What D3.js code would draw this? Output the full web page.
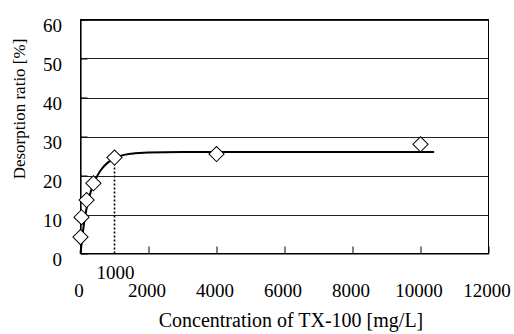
<!DOCTYPE html>
<html>
<head>
<meta charset="utf-8">
<script src="https://cdn.jsdelivr.net/npm/d3@7"></script>
<style>
  body { margin: 0; background: #fff; }
  svg text { font-family: "Liberation Serif", "Times New Roman", Times, serif; fill: #000; }
</style>
</head>
<body>
<div id="chart"></div>
<script>
// measured points
const concX = [0, 30, 180, 380, 1000, 4000, 10000];
const desorpY = [4.2, 9.3, 13.7, 18.0, 24.6, 25.5, 28.0];

// fitted curve
const fitX = [0, 100, 200, 300, 400, 500, 600, 800, 1000, 1200, 1500, 2000, 3000, 10400];
const fitY = [0, 7.5, 12.5, 15.8, 18.2, 20.0, 21.4, 23.3, 24.4, 25.1, 25.6, 25.9, 26.0, 26.0];

const xTicks = [0, 2000, 4000, 6000, 8000, 10000, 12000];
const yTicks = [0, 10, 20, 30, 40, 50, 60];
const markX = 1000; // dotted guide line

const serif = '"Liberation Serif", "Times New Roman", Times, serif';
const width = 514;
const height = 334;
const plotL = 80.5, plotR = 488.5, plotT = 19.5, plotB = 253.5;

const svg = d3.select('#chart')
  .append('svg')
  .attr('width', width)
  .attr('height', height)
  .attr('font-family', serif);

const x = d3.scaleLinear().domain([0, 12000]).range([plotL, plotR]);
const y = d3.scaleLinear().domain([0, 60]).range([plotB, plotT]);

// horizontal gridlines
svg.append('g')
  .selectAll('line')
  .data(yTicks.slice(1))
  .enter()
  .append('line')
  .attr('x1', plotL).attr('x2', plotR)
  .attr('y1', d => Math.round(y(d)) + 0.5)
  .attr('y2', d => Math.round(y(d)) + 0.5)
  .attr('stroke', '#222')
  .attr('stroke-width', 1);

// plot frame
svg.append('rect')
  .attr('x', plotL).attr('y', plotT)
  .attr('width', plotR - plotL).attr('height', plotB - plotT)
  .attr('fill', 'none')
  .attr('stroke', '#000')
  .attr('stroke-width', 1);

// x axis, ticks pointing inward
const xAxis = svg.append('g')
  .attr('transform', `translate(0, ${plotB})`)
  .call(d3.axisBottom(x).tickValues(xTicks).tickSizeInner(-7).tickSizeOuter(0).tickFormat(d3.format('d')))
  .attr('font-family', serif)
  .attr('font-size', 19);
xAxis.select('.domain').attr('stroke', '#000').attr('stroke-width', 1.2);
xAxis.selectAll('.tick line').attr('stroke', '#000');
xAxis.selectAll('.tick text')
  .attr('y', 43)
  .attr('dy', 0)
  .attr('dx', -2);

// y axis
const yAxis = svg.append('g')
  .attr('transform', `translate(${plotL}, 0)`)
  .call(d3.axisLeft(y).tickValues(yTicks).tickSizeInner(-7).tickSizeOuter(0))
  .attr('font-family', serif)
  .attr('font-size', 19);
yAxis.select('.domain').attr('stroke', '#000').attr('stroke-width', 1.2);
yAxis.selectAll('.tick line').attr('stroke', '#000');
yAxis.selectAll('.tick text')
  .attr('x', -18.5)
  .attr('dy', 0)
  .attr('y', 12);

// dotted guide at 1000 mg/L
const markIdx = concX.indexOf(markX);
svg.append('line')
  .attr('x1', x(markX)).attr('x2', x(markX))
  .attr('y1', y(0)).attr('y2', y(desorpY[markIdx]))
  .attr('stroke', '#000')
  .attr('stroke-width', 1.6)
  .attr('stroke-dasharray', '2,2');

svg.append('text')
  .attr('x', x(markX) + 1)
  .attr('y', 279)
  .attr('text-anchor', 'middle')
  .attr('font-size', 19)
  .text(markX);

// fitted curve
const line = d3.line()
  .curve(d3.curveMonotoneX)
  .x(d => x(d[0]))
  .y(d => y(d[1]));

svg.append('path')
  .datum(fitX.map((v, i) => [v, fitY[i]]))
  .attr('d', line)
  .attr('fill', 'none')
  .attr('stroke', '#000')
  .attr('stroke-width', 2);

// diamond markers
const diamond = d3.symbol().type(d3.symbolSquare).size(115);
svg.append('g')
  .selectAll('path')
  .data(concX.map((v, i) => [v, desorpY[i]]))
  .enter()
  .append('path')
  .attr('d', diamond)
  .attr('transform', d => `translate(${x(d[0])}, ${y(d[1])}) rotate(45)`)
  .attr('fill', '#fff')
  .attr('stroke', '#000')
  .attr('stroke-width', 1);

// axis titles
svg.append('text')
  .attr('x', 291)
  .attr('y', 327)
  .attr('text-anchor', 'middle')
  .attr('font-size', 20)
  .text('Concentration of TX-100 [mg/L]');

svg.append('text')
  .attr('transform', 'translate(25, 109) rotate(-90)')
  .attr('text-anchor', 'middle')
  .attr('font-size', 17)
  .text('Desorption ratio [%]');
</script>
</body>
</html>
